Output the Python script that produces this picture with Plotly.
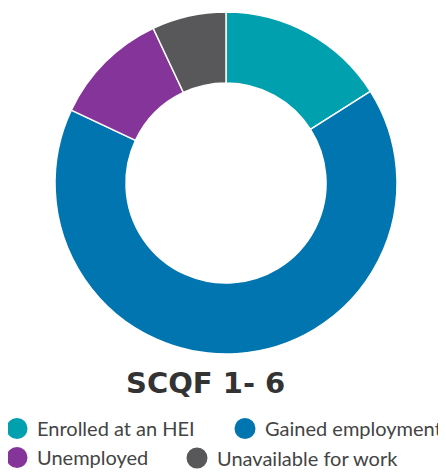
import plotly.graph_objects as go

# data
categories = ["Enrolled at an HEI", "Gained employment", "Unemployed", "Unavailable for work"]
shares = [16, 66, 11, 7]
colours = ["#00A0AF", "#0075B0", "#85359A", "#58585A"]
legend_slot = ["legend", "legend2", "legend", "legend3"]
title_text = "SCQF 1- 6"

# the page body adds an 8px margin, so positions are shifted by 8px
W, H, OFF = 446, 473, 8


def px_x(p):
    return (p - OFF) / W


def px_y(p):
    return (H - (p - OFF)) / H


fig = go.Figure()

fig.add_trace(go.Pie(
    labels=categories,
    values=shares,
    hole=0.585,
    sort=False,
    direction="clockwise",
    rotation=0,
    marker=dict(colors=colours, line=dict(color="white", width=1.5)),
    textinfo="none",
    hoverinfo="label+percent",
    showlegend=False,
    domain=dict(x=[px_x(55), px_x(397)], y=[px_y(354), px_y(12)]),
))

# legend entries with round markers
# (legend marker size is capped, so a same-colour outline makes them bigger)
for name, col, lg in zip(categories, colours, legend_slot):
    fig.add_trace(go.Scatter(
        x=[None], y=[None], mode="markers", name=name, legend=lg,
        marker=dict(color=col, size=16, symbol="circle", line=dict(color=col, width=5)),
    ))

fig.add_annotation(
    text="<b>" + title_text + "</b>",
    x=px_x(205), y=px_y(383), xref="paper", yref="paper",
    showarrow=False, yanchor="middle",
    font=dict(family="DejaVu Sans", size=29, color="#333333"),
)

leg_font = dict(family="Lato", size=20, color="#444444")
leg_common = dict(xanchor="left", yanchor="top", font=leg_font,
                  bgcolor="rgba(0,0,0,0)", tracegroupgap=0)

fig.update_layout(
    width=W, height=H,
    margin=dict(l=0, r=0, t=0, b=0, autoexpand=False),
    paper_bgcolor="white", plot_bgcolor="white",
    xaxis=dict(visible=False), yaxis=dict(visible=False),
    legend=dict(x=px_x(-3), y=px_y(409), **leg_common),
    legend2=dict(x=px_x(225), y=px_y(409), **leg_common),
    legend3=dict(x=px_x(177), y=px_y(438.5), **leg_common),
)

fig.write_html("out.html")
